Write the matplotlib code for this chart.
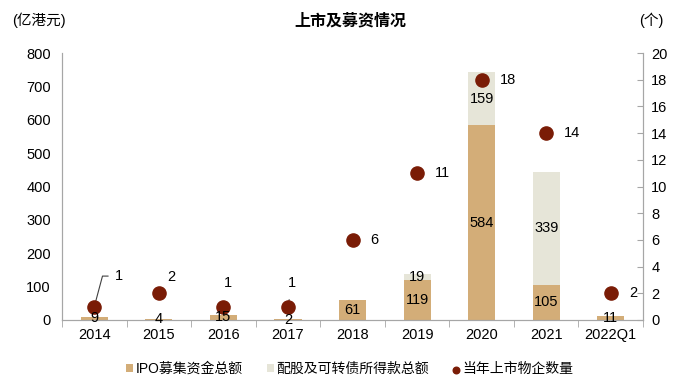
import numpy as np
import matplotlib
matplotlib.use("Agg")
import matplotlib.pyplot as plt

plt.rcParams['font.family'] = ['Liberation Sans', 'Noto Sans CJK SC', 'DejaVu Sans']

categories = ["2014", "2015", "2016", "2017", "2018", "2019", "2020", "2021", "2022Q1"]
ipo = [9, 4, 15, 2, 61, 119, 584, 105, 11]
placing = [0, 0, 0, 0, 0, 19, 159, 339, 0]
counts = [1, 2, 1, 1, 6, 11, 18, 14, 2]

c_ipo = "#D3AD78"
c_place = "#E6E5D8"
c_dot = "#7A1C06"
grey = "#A6A6A6"

fig = plt.figure(figsize=(7, 3.77), dpi=100)
ax = fig.add_axes([0.0886, 0.1512, 0.83, 0.7082])
ax2 = ax.twinx()

x = np.arange(len(categories))
w = 0.42
ax.bar(x, ipo, w, color=c_ipo, label="IPO募集资金总额", zorder=2)
ax.bar(x, placing, w, bottom=ipo, color=c_place, label="配股及可转债所得款总额", zorder=2)

ax.set_xlim(-0.5, len(x) - 0.5)
ax.set_ylim(0, 800)
ax.set_yticks(range(0, 801, 100))
ax.set_xticks(x)
ax.set_xticklabels(categories)
ax.set_xticks(np.arange(-0.5, len(x), 1), minor=True)
ax.tick_params(axis="x", which="major", length=0, labelsize=10.5, pad=6)
ax.tick_params(axis="x", which="minor", length=5, color=grey, direction="out")
ax.tick_params(axis="y", length=0, labelsize=10.5, pad=8)

ax2.scatter(x, counts, s=90, color=c_dot, zorder=4, label="当年上市物企数量")
ax2.set_ylim(0, 20)
ax2.set_yticks(range(0, 21, 2))
ax2.tick_params(axis="y", direction="in", length=4, color=grey, labelsize=10.5, pad=6)

# bar value labels drawn on the top axes so the dots don't hide them
for i in range(len(x)):
    ax2.text(x[i], ipo[i] / 2, str(ipo[i]), ha="center", va="center", fontsize=10.5,
             transform=ax.transData, zorder=5)
    if placing[i] > 0:
        ax2.text(x[i], ipo[i] + placing[i] / 2, str(placing[i]), ha="center", va="center",
                 fontsize=10.5, transform=ax.transData, zorder=5)

# labels next to the dots (offsets in points)
offsets = {0: (15, 22), 1: (6, 12), 2: (0, 17), 3: (0, 17)}
for i in range(len(x)):
    dx, dy = offsets.get(i, (13, 0))
    if i == 0:
        ax2.annotate(str(counts[i]), xy=(x[i], counts[i]), xytext=(dx, dy), textcoords="offset points",
                     ha="left", va="center", fontsize=10.5,
                     arrowprops=dict(arrowstyle="-", color="#404040", lw=0.8,
                                     connectionstyle="angle,angleA=0,angleB=75,rad=0",
                                     shrinkA=3, shrinkB=1))
    elif i == 3:
        ax2.annotate(str(counts[i]), xy=(x[i], counts[i]), xytext=(dx, dy), textcoords="offset points",
                     ha="left", va="center", fontsize=10.5,
                     arrowprops=dict(arrowstyle="-", color="#404040", lw=0.8,
                                     shrinkA=5, shrinkB=3))
    else:
        ax2.annotate(str(counts[i]), xy=(x[i], counts[i]), xytext=(dx, dy), textcoords="offset points",
                     ha="left", va="center", fontsize=10.5)

for a in (ax, ax2):
    a.spines["top"].set_visible(False)
    for s in ("left", "right", "bottom"):
        a.spines[s].set_color(grey)
ax.set_zorder(ax2.get_zorder() - 1)
ax2.patch.set_visible(False)

fig.text(0.5, 0.945, "上市及募资情况", ha="center", va="center", fontsize=11.5, fontweight="bold")
fig.text(0.055, 0.945, "(亿港元)", ha="center", va="center", fontsize=10.5)
fig.text(0.93, 0.945, "(个)", ha="center", va="center", fontsize=10.5)

h1, l1 = ax.get_legend_handles_labels()
h2, l2 = ax2.get_legend_handles_labels()
fig.legend(h1 + h2, l1 + l2, loc="center", bbox_to_anchor=(0.5, 0.022), ncol=3, frameon=False,
           fontsize=10, handlelength=0.5, handleheight=0.5, handletextpad=0.2, columnspacing=1.7,
           markerscale=0.5)

fig.savefig("out.png", dpi=100)
